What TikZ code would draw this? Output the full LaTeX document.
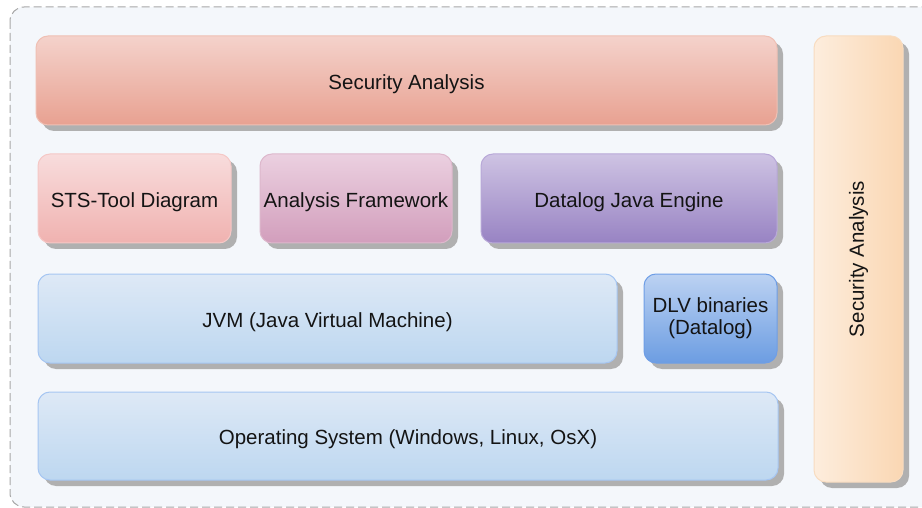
\documentclass[tikz,border=0pt]{standalone}
\usepackage{fontspec}
\setmainfont{Liberation Sans}
\usetikzlibrary{shadows}

\definecolor{pagebg}{HTML}{F4F7FB}
\definecolor{framedash}{HTML}{A8A8A8}
\definecolor{shadowgray}{HTML}{B0B0B0}
\definecolor{secTop}{HTML}{F4D2CB}
\definecolor{secBot}{HTML}{E8A191}
\definecolor{secLine}{HTML}{EFC0B4}
\definecolor{stsTop}{HTML}{F8DCDC}
\definecolor{stsBot}{HTML}{F0B2B0}
\definecolor{stsLine}{HTML}{F5C8C6}
\definecolor{afTop}{HTML}{EBD0E0}
\definecolor{afBot}{HTML}{D29EBC}
\definecolor{afLine}{HTML}{DDB8CC}
\definecolor{djTop}{HTML}{CEC3E3}
\definecolor{djBot}{HTML}{9883C3}
\definecolor{djLine}{HTML}{B8A8D8}
\definecolor{jvmTop}{HTML}{DEE9F6}
\definecolor{jvmBot}{HTML}{BDD7F0}
\definecolor{jvmLine}{HTML}{A6C6F2}
\definecolor{dlvTop}{HTML}{BCD2F2}
\definecolor{dlvBot}{HTML}{6C9DE2}
\definecolor{dlvLine}{HTML}{6E9EE6}
\definecolor{sideL}{HTML}{FDEDDD}
\definecolor{sideR}{HTML}{FAD7B3}
\definecolor{sideLine}{HTML}{F8DCC0}
\definecolor{labeltext}{HTML}{141414}

\tikzset{
  layer/.style={rectangle, rounded corners=12pt, inner sep=0pt, outer sep=0pt,
    line width=1pt, text=labeltext, align=center,
    font=\fontsize{20.5}{22}\selectfont,
    drop shadow={shadow xshift=6pt, shadow yshift=-6pt, fill=shadowgray, opacity=1}},
  vshade/.style n args={3}{layer, draw=#3, top color=#1, bottom color=#2},
  oneline/.style={text height=17.5pt, text depth=0pt},
}

\begin{document}
\begin{tikzpicture}[x=1pt, y=-1pt]
  \useasboundingbox (0,0) rectangle (922,508);
  \clip (0,0) rectangle (922,508);

  % dashed outer container
  \draw[framedash, fill=pagebg, line width=1pt, dash pattern=on 8pt off 4pt,
        rounded corners=14pt] (10,7) rectangle (940,507);

  % top layer
  \node[vshade={secTop}{secBot}{secLine}, oneline, minimum width=741pt, minimum height=89pt]
    (secA) at (406.5,80.5) {Security Analysis};

  % component row
  \node[vshade={stsTop}{stsBot}{stsLine}, oneline, minimum width=193pt, minimum height=89pt]
    (sts) at (134.5,198.5) {STS-Tool Diagram};
  \node[vshade={afTop}{afBot}{afLine}, oneline, minimum width=192pt, minimum height=89pt]
    (frame) at (356,198.5) {Analysis Framework};
  \node[vshade={djTop}{djBot}{djLine}, oneline, minimum width=296pt, minimum height=89pt]
    (engine) at (629,198.5) {Datalog Java Engine};

  % runtime row
  \node[vshade={jvmTop}{jvmBot}{jvmLine}, oneline, minimum width=579pt, minimum height=89pt]
    (jvm) at (327.5,318.5) {JVM (Java Virtual Machine)};
  \node[vshade={dlvTop}{dlvBot}{dlvLine}, minimum width=133pt, minimum height=89pt]
    (dlv) at (710.5,318.5) {DLV binaries\\(Datalog)};

  % operating system
  \node[vshade={jvmTop}{jvmBot}{jvmLine}, oneline, minimum width=740pt, minimum height=88pt]
    (os) at (408,436) {Operating System (Windows, Linux, OsX)};

  % cross-cutting concern on the right
  \node[layer, draw=sideLine, left color=sideL, right color=sideR,
        minimum width=89pt, minimum height=446pt]
    (side) at (858.5,259) {};
  \node[rotate=90, text=labeltext, font=\fontsize{20.5}{22}\selectfont]
    (sidelabel) at (side.center) {Security Analysis};
\end{tikzpicture}
\end{document}
